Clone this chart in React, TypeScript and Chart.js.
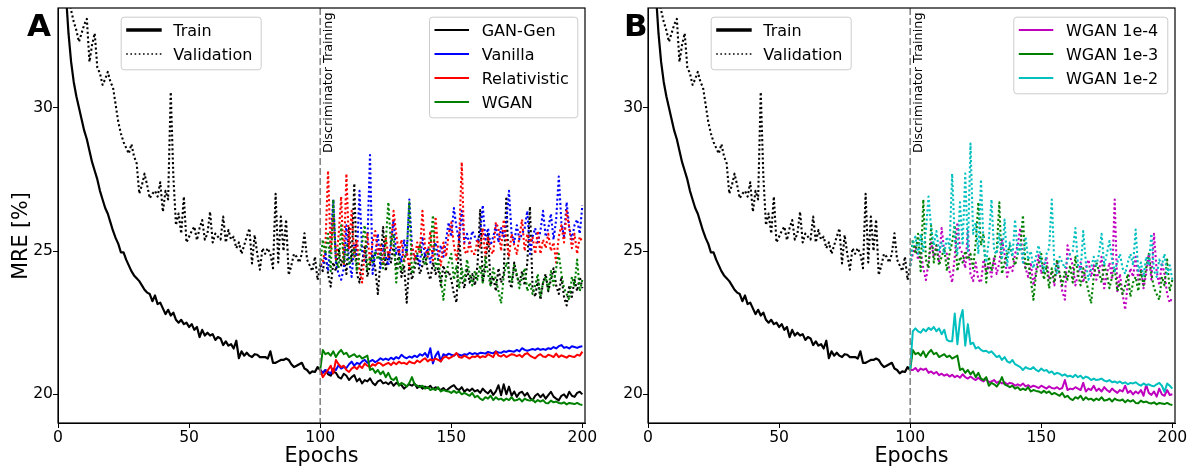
import React, { useEffect, useRef } from "react";
import { Chart, registerables } from "chart.js";
Chart.register(...registerables);

// ---------------- DATA ----------------
// shared pre-discriminator phase, epochs 0..100
const trainBase: number[] = [
  45.0, 39.5, 36.2, 34.0, 32.6, 31.6, 30.9, 30.4, 30.0, 29.6,
  29.2, 28.9, 28.5, 28.1, 27.8, 27.5, 27.1, 26.8, 26.5, 26.3,
  26.0, 25.7, 25.45, 25.25, 24.95, 24.95, 24.7, 24.5, 24.3, 24.15,
  24.05, 23.95, 23.8, 23.65, 23.55, 23.5, 23.25, 23.45, 23.15, 23.2,
  23.0, 22.8, 22.95, 22.75, 22.85, 22.6, 22.5, 22.6, 22.45, 22.5,
  22.35, 22.45, 22.25, 22.35, 22.0, 22.25, 22.05, 22.15, 22.05, 22.1,
  21.9, 22.0, 21.95, 21.72, 21.85, 21.7, 21.75, 21.6, 21.87, 21.26,
  21.5, 21.35, 21.45, 21.35, 21.3, 21.4, 21.38, 21.3, 21.3, 21.3,
  21.25, 21.5, 21.1, 21.1, 21.15, 21.2, 21.2, 21.25, 21.2, 21.05,
  20.95, 21.0, 21.05, 21.1, 20.9, 20.85, 20.73, 20.8, 20.78, 20.95,
  20.85,
];
const valBase: number[] = [
  38.0, 36.5, 35.2, 34.3, 33.9, 33.4, 33.0, 32.7, 32.3, 32.6,
  32.9, 33.1, 31.6, 32.2, 32.6, 31.4, 31.2, 30.8, 31.0, 31.25,
  30.9, 30.7, 30.1, 29.5, 29.1, 28.8, 28.6, 28.4, 28.73, 28.3,
  28.06, 27.0, 27.3, 27.7, 27.3, 26.84, 27.0, 27.1, 26.9, 27.4,
  26.37, 27.1, 26.8, 30.55, 27.6, 25.9, 26.31, 25.61, 26.9, 25.3,
  25.5, 25.7, 25.85, 25.38, 25.8, 26.08, 25.4, 25.61, 26.37, 25.3,
  25.61, 25.5, 25.4, 26.2, 25.3, 25.73, 25.4, 25.5, 25.1, 25.3,
  24.9, 25.2, 25.5, 25.79, 24.57, 25.56, 24.9, 24.35, 25.1, 24.9,
  25.1, 24.9, 24.4, 27.0, 24.6, 26.2, 25.0, 26.1, 24.16, 24.5,
  24.9, 24.8, 24.6, 24.9, 25.62, 24.7, 24.5, 24.3, 24.8, 23.99,
  24.5,
];

// discriminator phase, epochs 101..200
const ganGenTrain: number[] = [
  20.75, 20.85, 20.7, 20.65, 20.8, 20.75, 20.6, 20.55, 20.72, 20.65,
  20.5, 20.6, 20.67, 20.45, 20.55, 20.38, 20.5, 20.45, 20.56, 20.4,
  20.32, 20.45, 20.5, 20.38, 20.42, 20.35, 20.44, 20.3, 20.4, 20.35,
  20.32, 20.2, 20.28, 20.35, 20.3, 20.38, 20.22, 20.3, 20.2, 20.27,
  20.22, 20.3, 20.18, 20.25, 20.2, 20.15, 20.22, 20.12, 20.2, 20.27,
  20.32, 20.2, 20.15, 20.25, 20.09, 20.18, 20.12, 20.2, 20.1, 20.15,
  20.05, 20.2, 20.1, 20.03, 20.15, 19.98, 20.1, 20.32, 19.97, 20.35,
  20.0, 20.27, 19.95, 20.1, 19.91, 20.05, 20.09, 19.95, 20.05, 19.88,
  19.79, 19.95, 20.02, 19.9, 20.0, 19.85, 19.97, 20.09, 19.92, 19.85,
  19.79, 19.95, 20.0, 19.88, 20.09, 19.95, 19.91, 20.05, 20.09, 20.0,
];
const ganGenVal: number[] = [
  24.3, 24.9, 24.2, 23.76, 24.6, 24.3, 25.1, 24.5, 24.8, 24.2,
  25.8, 24.6, 27.36, 24.2, 23.9, 24.6, 25.2, 24.1, 24.5, 24.9,
  24.4, 23.5, 24.7, 25.84, 24.3, 24.9, 24.6, 25.2, 24.4, 24.9,
  24.1, 24.5, 23.2, 24.6, 24.0, 24.4, 24.8, 24.2, 24.5, 24.9,
  24.3, 24.0, 24.6, 24.2, 24.4, 23.8, 24.5, 24.1, 24.3, 24.0,
  23.5, 23.2, 25.6, 24.0, 23.7, 24.4, 23.9, 24.2, 23.8, 24.5,
  26.43, 23.9, 24.4, 25.6, 23.8, 24.1, 23.6, 24.4, 23.9, 24.2,
  26.9, 24.0, 23.7, 24.6, 24.1, 23.9, 24.3, 23.8, 24.6, 26.55,
  23.7, 23.4, 24.0, 23.3, 23.9, 24.2, 23.6, 24.0, 24.4, 23.8,
  23.5, 24.1, 23.4, 23.1, 23.8, 23.4, 24.0, 23.6, 24.1, 23.7,
];
const vanillaTrain: number[] = [
  20.75, 20.85, 20.78, 20.73, 20.9, 20.85, 21.02, 20.9, 20.96, 20.92,
  21.05, 21.14, 21.0, 21.1, 21.05, 21.15, 21.2, 21.1, 21.15, 21.2,
  21.12, 21.18, 21.26, 21.2, 21.25, 21.2, 21.28, 21.22, 21.3, 21.25,
  21.38, 21.3, 21.26, 21.32, 21.28, 21.35, 21.3, 21.4, 21.35, 21.44,
  21.3, 21.61, 21.08, 21.35, 21.49, 21.15, 21.4, 21.35, 21.42, 21.38,
  21.35, 21.42, 21.38, 21.35, 21.4, 21.38, 21.45, 21.4, 21.44, 21.4,
  21.45, 21.44, 21.42, 21.48, 21.45, 21.43, 21.5, 21.46, 21.45, 21.5,
  21.48, 21.52, 21.5, 21.49, 21.55, 21.5, 21.61, 21.55, 21.52, 21.55,
  21.58, 21.55, 21.6, 21.55, 21.58, 21.55, 21.61, 21.58, 21.65, 21.6,
  21.68, 21.72, 21.62, 21.65, 21.6, 21.68, 21.65, 21.62, 21.66, 21.68,
];
const vanillaVal: number[] = [
  24.5, 24.9, 24.3, 25.4, 26.8, 24.6, 24.2, 24.0, 24.4, 25.9,
  24.7, 24.1, 25.2, 24.8, 27.1, 25.0, 24.6, 25.3, 28.35, 24.2,
  24.9, 25.6, 24.4, 25.2, 24.8, 24.5, 25.3, 26.1, 24.9, 25.1,
  24.6, 25.4, 24.8, 26.8, 25.2, 24.7, 24.9, 24.5, 25.5, 24.8,
  25.1, 24.6, 25.0, 25.3, 24.7, 25.2, 24.8, 25.4, 26.0, 25.5,
  26.5, 25.8, 25.4, 26.4, 25.3, 25.6, 25.2, 25.7, 25.5, 25.3,
  25.6, 26.6, 25.4, 25.8, 25.2, 25.5, 25.9, 25.3, 25.8, 25.5,
  26.0, 27.1, 25.6, 25.3, 25.9, 25.4, 25.6, 25.8, 26.4, 24.9,
  25.5, 25.8, 25.3, 25.7, 26.4, 25.5, 25.8, 26.3, 25.4, 26.1,
  27.6, 26.0, 25.5, 26.7, 25.8, 25.4, 25.9, 26.1, 25.6, 26.6,
];
const relativisticTrain: number[] = [
  20.6, 20.73, 20.85, 21.0, 20.73, 21.2, 21.05, 20.95, 21.0, 20.85,
  20.78, 20.9, 20.96, 20.88, 21.0, 20.92, 21.08, 21.0, 20.95, 21.05,
  21.0, 21.1, 21.08, 21.0, 21.05, 21.1, 21.02, 21.12, 21.05, 21.14,
  21.08, 21.1, 21.05, 21.15, 21.1, 21.08, 21.18, 21.12, 21.2, 21.26,
  21.15, 21.22, 21.18, 21.25, 21.2, 21.15, 21.28, 21.32, 21.25, 21.3,
  21.35, 21.44, 21.3, 21.28, 21.35, 21.3, 21.25, 21.32, 21.3, 21.35,
  21.28, 21.33, 21.3, 21.4, 21.35, 21.3, 21.49, 21.35, 21.32, 21.38,
  21.3, 21.35, 21.4, 21.38, 21.33, 21.38, 21.3, 21.4, 21.44, 21.35,
  21.3, 21.26, 21.35, 21.4, 21.32, 21.3, 21.38, 21.35, 21.3, 21.42,
  21.3, 21.36, 21.32, 21.28, 21.35, 21.32, 21.3, 21.38, 21.35, 21.49,
];
const relativisticVal: number[] = [
  24.6, 25.2, 27.8, 25.0, 26.2, 24.7, 25.5, 26.9, 24.5, 27.7,
  25.1, 26.4, 24.8, 25.4, 24.3, 23.9, 25.0, 25.6, 24.6, 25.3,
  25.7, 24.9, 25.2, 24.5, 25.5, 24.8, 25.1, 26.4, 25.6, 24.9,
  25.4, 24.6, 25.0, 24.4, 25.2, 24.7, 25.3, 24.9, 26.4, 25.1,
  24.8, 25.7, 24.6, 26.2, 25.0, 24.5, 25.3, 24.8, 25.6, 26.0,
  25.2, 24.7, 25.4, 28.1, 25.0, 24.9, 25.3, 24.9, 24.9, 25.4,
  25.1, 25.8, 24.8, 25.5, 25.0, 24.9, 26.0, 25.8, 25.0, 26.1,
  25.4, 24.8, 25.6, 25.2, 24.9, 25.5, 26.1, 25.0, 25.6, 25.3,
  25.5, 24.9, 25.7, 24.9, 25.4, 25.1, 25.6, 25.0, 25.3, 24.6,
  25.5, 25.9, 25.3, 26.4, 25.8, 25.1, 25.6, 24.9, 25.5, 25.3,
];
// WGAN (panel A) == WGAN 1e-3 (panel B)
const wganTrain: number[] = [
  21.55, 21.4, 21.45, 21.35, 21.5, 21.3, 21.45, 21.55, 21.4, 21.45,
  21.3, 21.35, 21.4, 21.3, 21.35, 21.25, 21.3, 21.35, 20.85, 20.9,
  20.75, 20.85, 20.7, 20.8, 20.6, 20.75, 20.55, 20.5, 20.6, 20.3,
  20.4, 20.35, 20.27, 20.4, 20.6, 20.35, 20.3, 20.25, 20.3, 20.2,
  20.25, 20.15, 20.2, 20.15, 20.25, 20.1, 20.15, 20.12, 20.1, 20.05,
  20.12, 20.05, 20.1, 20.0, 20.05, 20.0, 19.95, 20.05, 19.9, 19.95,
  19.85, 19.8, 19.9, 19.85, 19.95, 19.8, 19.9, 19.82, 19.85, 19.78,
  19.85, 19.8, 19.9, 19.78, 19.8, 19.85, 19.75, 19.85, 19.8, 19.78,
  19.82, 19.72, 19.8, 19.75, 19.8, 19.7, 19.69, 19.78, 19.72, 19.75,
  19.7, 19.68, 19.72, 19.65, 19.7, 19.68, 19.66, 19.7, 19.65, 19.63,
];
const wganVal: number[] = [
  25.4, 24.9, 25.6, 24.3, 26.8, 24.7, 24.4, 25.9, 24.6, 25.2,
  24.5, 24.8, 25.1, 24.3, 24.9, 25.3, 25.9, 24.3, 24.8, 24.6,
  25.0, 24.7, 24.9, 24.4, 25.3, 26.7, 25.2, 25.6, 23.9, 24.8,
  24.3, 24.7, 25.0, 26.7, 24.2, 24.6, 24.9, 25.2, 24.8, 24.5,
  24.9, 25.1, 26.25, 24.4, 24.7, 24.0, 23.3, 24.2, 24.6, 24.9,
  24.0, 24.5, 23.7, 24.4, 23.9, 24.7, 24.2, 23.8, 24.3, 24.0,
  24.5, 23.9, 24.8, 24.2, 23.8, 24.4, 24.0, 23.6, 23.17, 24.1,
  24.6, 24.3, 23.9, 24.5, 24.2, 23.7, 24.1, 24.4, 23.6, 23.9,
  23.5, 23.8, 24.2, 23.4, 23.9, 24.1, 23.6, 24.3, 23.8, 24.4,
  24.9, 24.2, 23.7, 23.5, 23.3, 24.1, 23.8, 24.7, 23.6, 24.0,
];
const wgan1e4Train: number[] = [
  20.85, 20.92, 20.8, 20.9, 20.85, 20.9, 20.75, 20.8, 20.72, 20.78,
  20.67, 20.72, 20.65, 20.7, 20.62, 20.68, 20.6, 20.65, 20.58, 20.7,
  20.6, 20.55, 20.62, 20.55, 20.5, 20.58, 20.5, 20.45, 20.55, 20.42,
  20.45, 20.5, 20.4, 20.45, 20.38, 20.42, 20.35, 20.4, 20.38, 20.3,
  20.35, 20.3, 20.38, 20.28, 20.32, 20.25, 20.3, 20.27, 20.22, 20.3,
  20.25, 20.2, 20.28, 20.22, 20.2, 20.25, 20.18, 20.22, 20.5, 20.15,
  20.2, 20.18, 20.25, 20.2, 20.15, 20.4, 20.1, 20.2, 20.15, 20.3,
  20.12, 20.2, 20.1, 20.25, 20.15, 20.08, 20.2, 20.12, 20.05, 20.15,
  20.1, 20.3, 20.05, 20.12, 20.0, 20.1, 20.03, 20.15, 19.95, 20.33,
  20.05, 19.98, 20.1, 19.92, 20.2, 20.0, 19.95, 20.15, 19.98, 20.0,
];
const wgan1e4Val: number[] = [
  24.9, 25.2, 24.69, 25.0, 24.4, 23.99, 24.6, 25.3, 24.8, 25.2,
  24.6, 25.8, 25.0, 24.9, 24.3, 23.9, 24.8, 26.0, 25.1, 24.9,
  24.4, 25.7, 24.2, 23.95, 24.6, 24.0, 23.9, 24.7, 24.3, 24.5,
  24.1, 24.8, 24.2, 24.6, 25.4, 24.9, 24.1, 24.5, 24.3, 24.9,
  25.2, 25.8, 24.7, 24.4, 24.1, 24.6, 23.8, 24.3, 24.9, 24.2,
  24.5, 24.8, 24.0, 24.3, 23.8, 24.6, 24.2, 23.6, 23.3, 25.2,
  24.8, 24.5, 23.8, 24.2, 24.6, 23.9, 24.4, 24.7, 24.1, 24.5,
  24.0, 24.3, 24.8, 23.7, 24.2, 24.6, 24.0, 26.8, 23.6, 24.2,
  23.5, 22.95, 23.9, 24.4, 24.1, 24.8, 24.0, 24.4, 23.7, 24.2,
  24.9, 24.0, 25.6, 24.3, 23.8, 24.6, 24.2, 23.5, 23.2, 23.4,
];
const wgan1e2Train: number[] = [
  22.2, 22.3, 22.2, 22.15, 22.28, 22.2, 22.32, 22.25, 22.35, 22.2,
  22.3, 22.1, 22.25, 21.9, 21.85, 21.85, 22.82, 21.75, 22.6, 22.94,
  21.7, 22.45, 21.75, 21.8, 21.6, 21.65, 21.55, 21.5, 21.52, 21.45,
  21.5, 21.4, 21.3, 21.35, 21.2, 21.3, 21.15, 21.1, 21.2, 21.05,
  21.0, 20.95, 20.85, 20.95, 20.9, 20.88, 20.95, 20.85, 20.8, 20.9,
  20.82, 20.85, 20.75, 20.8, 20.7, 20.75, 20.72, 20.65, 20.7, 20.62,
  20.65, 20.6, 20.68, 20.6, 20.65, 20.55, 20.62, 20.58, 20.5, 20.55,
  20.5, 20.52, 20.55, 20.48, 20.45, 20.5, 20.42, 20.45, 20.4, 20.45,
  20.38, 20.42, 20.35, 20.4, 20.38, 20.42, 20.35, 20.3, 20.38, 20.32,
  20.35, 20.3, 20.28, 20.35, 20.4, 20.3, 20.09, 20.38, 20.3, 20.2,
];
const wgan1e2Val: number[] = [
  25.3, 25.5, 24.9, 25.6, 25.0, 25.7, 26.9, 25.8, 25.2, 25.7,
  25.0, 25.3, 24.9, 25.5, 25.1, 27.7, 25.4, 24.9, 26.7, 25.2,
  27.7, 25.0, 28.75, 25.6, 26.0, 24.9, 27.5, 25.2, 24.6, 25.4,
  26.8, 25.0, 24.9, 25.6, 24.7, 26.1, 24.5, 25.3, 24.8, 26.1,
  24.9, 25.3, 24.6, 25.5, 24.7, 25.0, 24.4, 24.8, 25.2, 24.6,
  24.3, 24.9, 25.1, 26.8, 24.5, 24.2, 24.8, 24.6, 24.4, 24.7,
  24.9, 25.0, 25.8, 24.5, 24.3, 25.7, 24.6, 24.0, 24.4, 24.8,
  24.5, 24.9, 25.6, 24.5, 24.9, 25.35, 24.7, 24.3, 24.6, 24.9,
  24.4, 24.2, 24.6, 24.9, 24.5, 25.75, 24.3, 24.6, 24.1, 24.8,
  24.5, 25.6, 24.3, 24.1, 24.7, 24.5, 24.9, 24.2, 24.5, 24.0,
];

const xTicks = [0, 50, 100, 150, 200];
const yTicks = [20, 25, 30];
const mainLegendLabels = ["Train", "Validation"];
const discriminatorLabel = "Discriminator Training";
const yAxisTitle = "MRE [%]";
const xAxisTitle = "Epochs";

// ---------------- STYLE / LAYOUT ----------------
const FONT = '"DejaVu Sans", sans-serif';
const X_MIN = 0, X_MAX = 201, Y_MIN = 19.0, Y_MAX = 33.48;
const START_EPOCH = 100;
const DOT = [2.1, 2.5];
const H = 469;

type Model = { name: string; color: string; train: number[]; val: number[] };
type Box = { x: number; y: number; w: number; h: number };
type PanelCfg = {
  letter: string; letterX: number; showYTitle: boolean;
  models: Model[]; legendMain: Box; legendModels: Box;
};

const panelA: PanelCfg = {
  letter: "A", letterX: 27, showYTitle: true,
  models: [
    { name: "GAN-Gen", color: "#000000", train: ganGenTrain, val: ganGenVal },
    { name: "Vanilla", color: "#0000ff", train: vanillaTrain, val: vanillaVal },
    { name: "Relativistic", color: "#ff0000", train: relativisticTrain, val: relativisticVal },
    { name: "WGAN", color: "#008000", train: wganTrain, val: wganVal },
  ],
  legendMain: { x: 120.7, y: 16.7, w: 140, h: 52.6 },
  legendModels: { x: 429, y: 16.7, w: 148.3, h: 100.6 },
};
const panelB: PanelCfg = {
  letter: "B", letterX: 34, showYTitle: false,
  models: [
    { name: "WGAN 1e-4", color: "#bf00bf", train: wgan1e4Train, val: wgan1e4Val },
    { name: "WGAN 1e-3", color: "#008000", train: wganTrain, val: wganVal },
    { name: "WGAN 1e-2", color: "#00bfbf", train: wgan1e2Train, val: wgan1e2Val },
  ],
  legendMain: { x: 120.7, y: 16.7, w: 140, h: 52.6 },
  legendModels: { x: 423.3, y: 16.7, w: 154, h: 76.6 },
};

function prePoints(vals: number[]) {
  return vals.map((y, i) => ({ x: i, y }));
}
function postPoints(start: number, vals: number[]) {
  return [{ x: START_EPOCH, y: start }, ...vals.map((y, i) => ({ x: START_EPOCH + 1 + i, y }))];
}

function drawLegendBox(ctx: CanvasRenderingContext2D, b: Box) {
  ctx.save();
  ctx.beginPath();
  (ctx as any).roundRect(b.x + 0.5, b.y + 0.5, b.w, b.h, 3);
  ctx.fillStyle = "rgba(255,255,255,0.8)";
  ctx.fill();
  ctx.strokeStyle = "#cccccc";
  ctx.lineWidth = 1;
  ctx.stroke();
  ctx.restore();
}

function makeDecor(cfg: PanelCfg) {
  return {
    id: "decor",
    afterDatasetsDraw(chart: any) {
      const { ctx, chartArea: a, scales } = chart;
      const c = ctx as CanvasRenderingContext2D;
      const px = scales.x.getPixelForValue(START_EPOCH);
      c.save();
      // vertical dashed line
      c.strokeStyle = "#808080";
      c.lineWidth = 1.5;
      c.setLineDash([7, 3]);
      c.beginPath();
      c.moveTo(px, a.top);
      c.lineTo(px, a.bottom);
      c.stroke();
      c.setLineDash([]);
      // label
      c.save();
      c.translate(px + 8, a.top + 4.5);
      c.rotate(-Math.PI / 2);
      c.font = `12.8px ${FONT}`;
      c.fillStyle = "#000";
      c.textAlign = "right";
      c.textBaseline = "middle";
      c.fillText(discriminatorLabel, 0, 0);
      c.restore();
      // frame
      c.strokeStyle = "#000";
      c.lineWidth = 1.2;
      c.strokeRect(a.left, a.top, a.right - a.left, a.bottom - a.top);

      // legends
      c.font = `16px ${FONT}`;
      c.textAlign = "left";
      c.textBaseline = "alphabetic";
      const lm = cfg.legendMain;
      drawLegendBox(c, lm);
      const rows1 = [30, 54];
      mainLegendLabels.forEach((lab, i) => {
        const y = rows1[i];
        c.beginPath();
        c.strokeStyle = "#000";
        if (i === 0) { c.lineWidth = 3.5; c.setLineDash([]); }
        else { c.lineWidth = 1.6; c.setLineDash([1.6, 2.6]); }
        c.moveTo(lm.x + 5.5, y);
        c.lineTo(lm.x + 41, y);
        c.stroke();
        c.setLineDash([]);
        c.fillStyle = "#000";
        c.fillText(lab, lm.x + 52.6, y + 6);
      });
      const lg = cfg.legendModels;
      drawLegendBox(c, lg);
      cfg.models.forEach((m, i) => {
        const y = 30 + i * 24;
        c.beginPath();
        c.strokeStyle = m.color;
        c.lineWidth = 2.2;
        c.moveTo(lg.x + 5.5, y);
        c.lineTo(lg.x + 40, y);
        c.stroke();
        c.fillStyle = "#000";
        c.fillText(m.name, lg.x + 52.7, y + 6);
      });

      // panel letter
      c.font = `bold 31px ${FONT}`;
      c.fillStyle = "#000";
      c.fillText(cfg.letter, cfg.letterX, 36);

      // axis titles
      c.font = `20.7px ${FONT}`;
      c.textAlign = "center";
      c.fillText(xAxisTitle, (a.left + a.right) / 2, 462);
      if (cfg.showYTitle) {
        c.save();
        c.translate(27.3, 236);
        c.rotate(-Math.PI / 2);
        c.fillText(yAxisTitle, 0, 0);
        c.restore();
      }
      c.restore();
    },
  };
}

function Panel({ cfg, left, width }: { cfg: PanelCfg; left: number; width: number }) {
  const ref = useRef<HTMLCanvasElement>(null);
  useEffect(() => {
    const canvas = ref.current!;
    const datasets: any[] = [];
    const push = (data: any[], color: string, w: number, dash: number[]) =>
      datasets.push({
        data, borderColor: color, borderWidth: w, borderDash: dash,
        pointRadius: 0, tension: 0, fill: false, borderJoinStyle: "round",
      });
    push(prePoints(trainBase), "#000000", 2.2, []);
    push(prePoints(valBase), "#000000", 2.1, DOT);
    for (const m of cfg.models) {
      push(postPoints(trainBase[START_EPOCH], m.train), m.color, 2, []);
      push(postPoints(valBase[START_EPOCH], m.val), m.color, 2.1, DOT);
    }
    datasets.forEach((d, i) => (d.order = datasets.length - i));

    const tickFont = { family: FONT, size: 15.6 };
    const chart = new Chart(canvas, {
      type: "line",
      data: { datasets },
      options: {
        responsive: false,
        animation: false,
        devicePixelRatio: 1,
        parsing: false as any,
        layout: { padding: { left: 0, top: 8, right: width - 585, bottom: 0 } },
        plugins: { legend: { display: false }, tooltip: { enabled: false } },
        scales: {
          x: {
            type: "linear", min: X_MIN, max: X_MAX,
            afterBuildTicks: (s: any) => { s.ticks = xTicks.map((v) => ({ value: v })); },
            afterFit: (s: any) => { s.height = H - 423; s.paddingLeft = 0; s.paddingRight = 0; },
            ticks: { font: tickFont, color: "#000", padding: 1, maxRotation: 0, autoSkip: false },
            grid: { drawOnChartArea: false, drawTicks: true, tickLength: 5, color: "#000" },
            border: { color: "#000", width: 1 },
          },
          y: {
            type: "linear", min: Y_MIN, max: Y_MAX,
            afterBuildTicks: (s: any) => { s.ticks = yTicks.map((v) => ({ value: v })); },
            afterFit: (s: any) => { s.width = 58; s.paddingTop = 0; s.paddingBottom = 0; },
            ticks: { font: tickFont, color: "#000", padding: 0, autoSkip: false },
            grid: { drawOnChartArea: false, drawTicks: true, tickLength: 5, color: "#000" },
            border: { color: "#000", width: 1 },
          },
        },
      } as any,
      plugins: [makeDecor(cfg)],
    });
    return () => chart.destroy();
  }, []);
  return (
    <canvas
      ref={ref}
      width={width}
      height={H}
      style={{ position: "absolute", left, top: 0, width, height: H }}
    />
  );
}

export default function App() {
  return (
    <div style={{ position: "fixed", left: 0, top: 0, width: 1195, height: H, background: "#fff" }}>
      <Panel cfg={panelA} left={0} width={610} />
      <Panel cfg={panelB} left={590} width={605} />
    </div>
  );
}
